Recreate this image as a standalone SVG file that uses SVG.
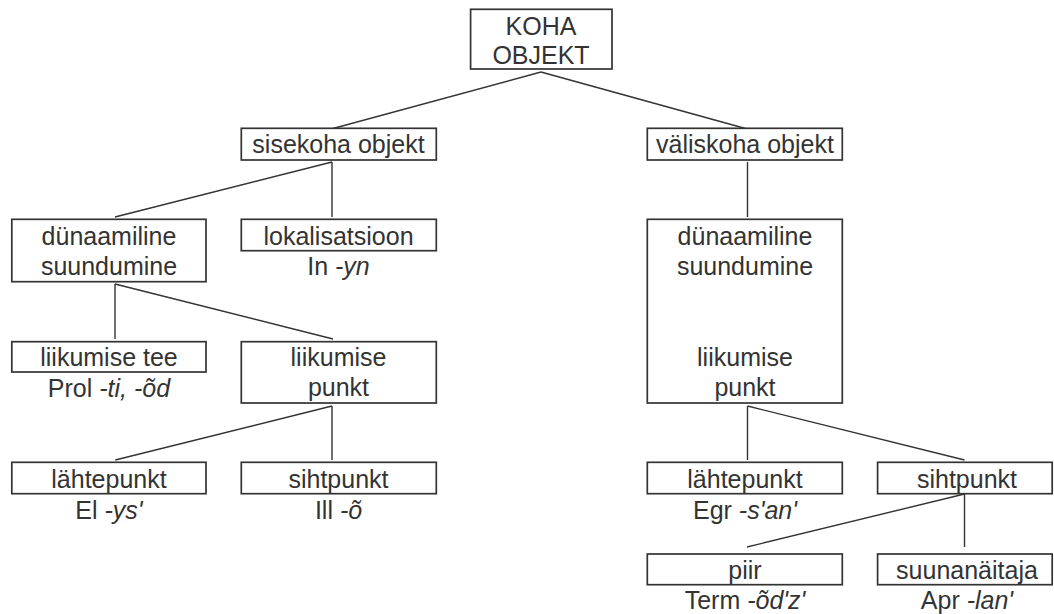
<svg xmlns="http://www.w3.org/2000/svg" width="1054" height="614" viewBox="0 0 1054 614">
<style>
.box{fill:#fff;stroke:#333;stroke-width:1.7}
.t{font-family:"Liberation Sans",Arial,sans-serif;font-size:25px;fill:#333;text-anchor:middle}
.i{font-style:italic}
.c line{stroke:#333;stroke-width:1.4}
</style>
<rect width="1054" height="614" fill="#fff"/>
<g class="c" id="connectors">
<line x1="541" y1="72" x2="333" y2="128.5"/>
<line x1="541" y1="72" x2="745.5" y2="128.5"/>
<line x1="332" y1="162" x2="115" y2="217"/>
<line x1="332" y1="162" x2="332" y2="217"/>
<line x1="115" y1="284" x2="115" y2="339"/>
<line x1="115" y1="284" x2="333" y2="339"/>
<line x1="332" y1="406" x2="115.3" y2="460"/>
<line x1="332" y1="406" x2="332" y2="460"/>
<line x1="747.5" y1="162" x2="747.5" y2="217"/>
<line x1="747.5" y1="406" x2="747.5" y2="460"/>
<line x1="747.5" y1="406" x2="964.5" y2="460"/>
<line x1="964.5" y1="494" x2="747" y2="547"/>
<line x1="964.5" y1="485" x2="964.5" y2="547"/>
</g>
<g id="koha-objekt">
<rect class="box" x="470.6" y="9.3" width="141.4" height="59.7"/>
<text class="t" x="541" y="34.5">KOHA</text>
<text class="t" x="541" y="63.5">OBJEKT</text>
</g>
<g id="sisekoha-objekt">
<rect class="box" x="241.3" y="128.3" width="195" height="31.7"/>
<text class="t" x="338.5" y="153">sisekoha objekt</text>
</g>
<g id="valiskoha-objekt">
<rect class="box" x="647.3" y="128.3" width="195" height="31.7"/>
<text class="t" x="745" y="153">väliskoha objekt</text>
</g>
<g id="dunaamiline-left">
<rect class="box" x="11.8" y="219.3" width="194.2" height="62.4"/>
<text class="t" x="109" y="245">dünaamiline</text>
<text class="t" x="109" y="275">suundumine</text>
</g>
<g id="lokalisatsioon">
<rect class="box" x="241.3" y="219.3" width="195" height="31.4"/>
<text class="t" x="338.5" y="245">lokalisatsioon</text>
<text class="t" x="338.5" y="275">In <tspan class="i">-yn</tspan></text>
</g>
<g id="dunaamiline-right">
<rect class="box" x="647.3" y="219.3" width="195" height="183.7"/>
<text class="t" x="745" y="245">dünaamiline</text>
<text class="t" x="745" y="275">suundumine</text>
<text class="t" x="745" y="366">liikumise</text>
<text class="t" x="745" y="396">punkt</text>
</g>
<g id="liikumise-tee">
<rect class="box" x="11.8" y="341.7" width="194.2" height="30.3"/>
<text class="t" x="109" y="366">liikumise tee</text>
<text class="t" x="109" y="397">Prol <tspan class="i">-ti, -õd</tspan></text>
</g>
<g id="liikumise-punkt">
<rect class="box" x="241.3" y="341.7" width="195" height="61.3"/>
<text class="t" x="338.5" y="366">liikumise</text>
<text class="t" x="338.5" y="396">punkt</text>
</g>
<g id="lahtepunkt-left">
<rect class="box" x="11.8" y="462.3" width="194.2" height="31.4"/>
<text class="t" x="109" y="488">lähtepunkt</text>
<text class="t" x="109" y="518.5">El <tspan class="i">-ys'</tspan></text>
</g>
<g id="sihtpunkt-left">
<rect class="box" x="241.3" y="462.3" width="195" height="31.4"/>
<text class="t" x="338.5" y="488">sihtpunkt</text>
<text class="t" x="338.5" y="518.5">Ill <tspan class="i">-õ</tspan></text>
</g>
<g id="lahtepunkt-right">
<rect class="box" x="647.3" y="462.3" width="195" height="31.4"/>
<text class="t" x="745" y="488">lähtepunkt</text>
<text class="t" x="745" y="518.5">Egr <tspan class="i">-s'an'</tspan></text>
</g>
<g id="sihtpunkt-right">
<rect class="box" x="877.6" y="462.3" width="174.6" height="31.4"/>
<text class="t" x="967" y="488">sihtpunkt</text>
</g>
<g id="piir">
<rect class="box" x="647.3" y="554" width="195" height="30.7"/>
<text class="t" x="745" y="579">piir</text>
<text class="t" x="745" y="609">Term <tspan class="i">-õd'z'</tspan></text>
</g>
<g id="suunanaitaja">
<rect class="box" x="877.6" y="554" width="174.6" height="30.7"/>
<text class="t" x="967" y="579">suunanäitaja</text>
<text class="t" x="967" y="609">Apr <tspan class="i">-lan'</tspan></text>
</g>
</svg>
